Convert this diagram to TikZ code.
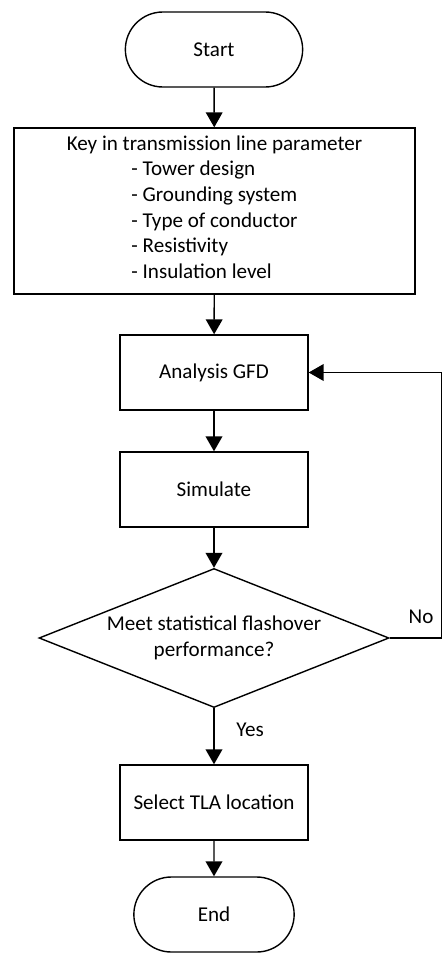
\documentclass[tikz,border=0pt]{standalone}
\usepackage{fontspec}
\setmainfont{Carlito}
\usetikzlibrary{arrows.meta,shapes.geometric,shapes.misc}
\tikzset{
  termbox/.style={draw, rounded rectangle, minimum width=3.78cm, minimum height=1.5cm},
  procbox/.style={draw, rectangle, minimum width=3.76cm, minimum height=1.5cm},
  decbox/.style={draw, diamond, aspect=2.5, inner sep=0pt, minimum width=7cm, minimum height=2.78cm, align=center},
}
\begin{document}
\begin{tikzpicture}[>={Triangle[width=9.5pt,length=8.5pt]}, line width=0.8pt, font=\fontsize{12}{14.6}\selectfont]
\useasboundingbox (0,0) rectangle (8.84,-19.08);
\node[termbox] (start) at (4.28,-0.99) {Start};
\node[procbox, minimum width=8.02cm, minimum height=3.32cm, align=center] (keyin) at (4.29,-4.22)
  {Key in transmission line parameter\\
   \begin{tabular}[t]{@{}l@{}}- Tower design\\- Grounding system\\- Type of conductor\\- Resistivity\\- Insulation level\end{tabular}};
\node[procbox] (gfd) at (4.28,-7.45) {Analysis GFD};
\node[procbox] (sim) at (4.28,-9.79) {Simulate};
\node[decbox] (decide) at (4.28,-12.76) {Meet statistical flashover\\performance?};
\node[procbox] (tla) at (4.28,-16.05) {Select TLA location};
\node[termbox, minimum width=3.44cm] (end) at (4.28,-18.29) {End};
\coordinate (loop) at (8.83,-12.76);
\draw[->] (start) -- (keyin);
\draw[->] (keyin) -- (gfd);
\draw[->] (gfd) -- (sim);
\draw[->] (sim) -- (decide);
\draw[->] (decide) -- (tla);
\draw[->] (tla) -- (end);
\draw[->] (decide.east) -- (loop) |- (gfd.east);
\node (no) at (8.42,-12.34) {No};
\node (yes) at (5.0,-14.6) {Yes};
\end{tikzpicture}
\end{document}
